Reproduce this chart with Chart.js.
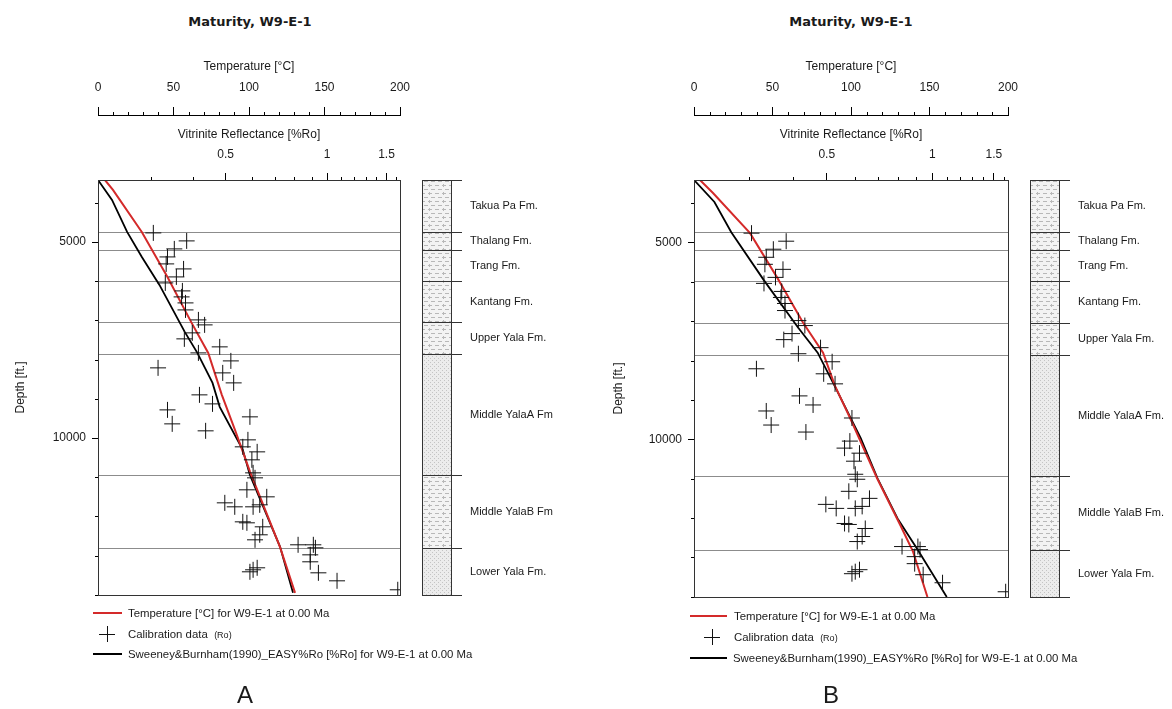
<!DOCTYPE html>
<html>
<head>
<meta charset="utf-8">
<script src="https://cdn.jsdelivr.net/npm/chart.js@4.4.1/dist/chart.umd.min.js"></script>
<style>
  body { margin: 0; background: #fff; width: 1172px; height: 709px; overflow: hidden; position: relative;
         font-family: "Liberation Sans", Arial, sans-serif; color: #1a1a1a; }
  canvas { position: absolute; top: 0; }
  #chartA { left: 0; }
  #chartB { left: 580px; }
  .title { position: absolute; top: 14px; width: 300px; text-align: center;
           font: bold 13px "DejaVu Sans", Verdana, sans-serif; line-height: 16px; }
  .panel { position: absolute; top: 681px; width: 60px; text-align: center; font-size: 24px; line-height: 28px; }
  .lg { position: absolute; font-size: 11.4px; line-height: 14px; white-space: nowrap; }
  .lg small { font-size: 9px; }
  .bar { position: absolute; height: 2px; }
  .cross-h { position: absolute; width: 16px; height: 1px; background: #111; }
  .cross-v { position: absolute; width: 1px; height: 16px; background: #111; }
</style>
</head>
<body>
<div class="title" style="left:100px">Maturity, W9-E-1</div>
<div class="title" style="left:701px">Maturity, W9-E-1</div>

<canvas id="chartA" width="553" height="709"></canvas>
<canvas id="chartB" width="592" height="709"></canvas>

<!-- legend A -->
<div class="bar" style="left:93px;top:612px;width:29px;background:#d42a2a"></div>
<div class="lg" style="left:128px;top:606px">Temperature [°C] for W9-E-1 at 0.00 Ma</div>
<div class="cross-h" style="left:99px;top:634px"></div><div class="cross-v" style="left:107px;top:626px"></div>
<div class="lg" style="left:128px;top:627px">Calibration data &nbsp;<small>(Ro)</small></div>
<div class="bar" style="left:93px;top:653px;width:29px;background:#000"></div>
<div class="lg" style="left:128px;top:647px">Sweeney&amp;Burnham(1990)_EASY%Ro [%Ro] for W9-E-1 at 0.00 Ma</div>
<div class="panel" style="left:215px">A</div>

<!-- legend B -->
<div class="bar" style="left:690px;top:615px;width:37px;background:#d42a2a"></div>
<div class="lg" style="left:734px;top:609px">Temperature [°C] for W9-E-1 at 0.00 Ma</div>
<div class="cross-h" style="left:704px;top:637px"></div><div class="cross-v" style="left:712px;top:629px"></div>
<div class="lg" style="left:734px;top:630px">Calibration data &nbsp;<small>(Ro)</small></div>
<div class="bar" style="left:690px;top:657px;width:37px;background:#000"></div>
<div class="lg" style="left:733px;top:651px">Sweeney&amp;Burnham(1990)_EASY%Ro [%Ro] for W9-E-1 at 0.00 Ma</div>
<div class="panel" style="left:801px">B</div>

<script>
// axes
const depthMin = 3415, depthMax = 14005;
const depthTicks = [4000, 5000, 6000, 7000, 8000, 9000, 10000, 11000, 12000, 13000, 14000];
const depthLabels = [5000, 10000];
const tempTicks = [0, 10, 20, 30, 40, 50, 60, 70, 80, 90, 100, 110, 120, 130, 140, 150, 160, 170, 180, 190, 200];
const tempLabels = [0, 50, 100, 150, 200];
const roTicks = [0.3, 0.4, 0.5, 0.6, 0.7, 0.8, 0.9, 1, 1.1, 1.2, 1.3, 1.4, 1.5, 1.6];
const roLabels = [0.5, 1, 1.5];

// formations
const formationNames = ['Takua Pa Fm.', 'Thalang Fm.', 'Trang Fm.', 'Kantang Fm.', 'Upper Yala Fm.',
                        'Middle YalaA Fm.', 'Middle YalaB Fm.', 'Lower Yala Fm.'];
const formationTops = [3415, 4740, 5200, 5990, 7036, 7852, 10939, 12801];
const formationLith = ['shale', 'shale', 'shale', 'shale', 'shale', 'sand', 'shale', 'sand'];

// calibration data (Ro measurements)
const calDepth = [4765, 4969, 5173, 5378, 5556, 5684, 5888, 6041, 6245, 6398, 6551, 6730, 6985, 7112,
                  7316, 7469, 7673, 7827, 8031, 8209, 8337, 8592, 8898, 9128, 9281, 9459, 9638, 9816,
                  10046, 10224, 10352, 10556, 10888, 11015, 11321, 11500, 11653, 11755, 11755, 11704,
                  12138, 12163, 12265, 12469, 12597, 12724, 12724, 12801, 12980, 13158, 13413, 13362,
                  13311, 13439, 13643, 13872];
const calRo = [0.305, 0.383, 0.352, 0.336, 0.333, 0.375, 0.357, 0.331, 0.372, 0.370, 0.380, 0.380, 0.415, 0.433,
               0.398, 0.377, 0.480, 0.415, 0.518, 0.315, 0.490, 0.528, 0.418, 0.457, 0.336, 0.590, 0.347, 0.436,
               0.582, 0.562, 0.620, 0.598, 0.603, 0.611, 0.578, 0.662, 0.497, 0.532, 0.603, 0.631,
               0.562, 0.578, 0.644, 0.631, 0.611, 0.820, 0.910, 0.923, 0.891, 0.891, 0.590, 0.603,
               0.620, 0.942, 1.07, 1.62];

// model A
const tempDepthA = [3415, 3668, 4740, 5888, 7061, 7827, 8898, 9791, 10862, 12776, 13950];
const tempA = [4.6, 9.9, 29, 46, 62, 73, 82, 90.7, 100.7, 120.5, 130.5];
const roDepthA = [3415, 3923, 4740, 5378, 6092, 7291, 7827, 8592, 9204, 10301, 10939, 12776, 13950];
const roA = [0.209, 0.230, 0.255, 0.282, 0.318, 0.378, 0.412, 0.457, 0.480, 0.562, 0.590, 0.725, 0.792];

// model B
const tempDepthB = [3415, 3745, 4765, 5888, 7036, 7801, 8643, 9459, 10990, 12163, 12852, 14005];
const tempB = [3.8, 12.1, 35.7, 52.9, 69.4, 82.2, 89.8, 99.4, 116.6, 131.2, 139.5, 148.7];
const roDepthB = [3415, 3974, 4740, 5964, 7163, 7801, 8592, 9969, 10990, 12010, 12801, 14005];
const roB = [0.209, 0.239, 0.267, 0.331, 0.414, 0.471, 0.523, 0.625, 0.698, 0.796, 0.908, 1.10];

const FONT = '"Liberation Sans", Arial, sans-serif';
const INK = '#1a1a1a';

function pts(xs, ys) {
  return xs.map((x, i) => ({ x: x, y: ys[i] }));
}

function makePattern(ctx, kind) {
  const c = document.createElement('canvas');
  const g = c.getContext('2d');
  if (kind === 'shale') {
    c.width = 14; c.height = 8;
    g.fillStyle = '#f3f3f3'; g.fillRect(0, 0, 14, 8);
    g.fillStyle = '#b8b8b8';
    g.fillRect(1, 1, 4, 1); g.fillRect(8, 1, 4, 1);
    g.fillRect(4, 5, 4, 1); g.fillRect(11, 5, 3, 1); g.fillRect(0, 5, 1, 1);
    g.fillRect(9, 0, 1, 3);
  } else {
    c.width = 4; c.height = 4;
    g.fillStyle = '#ececec'; g.fillRect(0, 0, 4, 4);
    g.fillStyle = '#c4c4c4';
    g.fillRect(0, 0, 1, 1); g.fillRect(2, 2, 1, 1);
  }
  return ctx.createPattern(c, 'repeat');
}

// formation lines, frame, minor ticks and lithology column
const strata = {
  id: 'strata',
  beforeDatasetsDraw(chart) {
    const { ctx, chartArea: a, scales: { y } } = chart;
    ctx.save();
    ctx.strokeStyle = '#8c8c8c';
    ctx.lineWidth = 1;
    formationTops.slice(1).forEach(d => {
      const py = Math.round(y.getPixelForValue(d)) + 0.5;
      ctx.beginPath(); ctx.moveTo(a.left, py); ctx.lineTo(a.right, py); ctx.stroke();
    });
    ctx.restore();
  },
  afterDraw(chart) {
    const { ctx, chartArea: a, scales } = chart;
    const y = scales.y;
    ctx.save();
    ctx.strokeStyle = '#333';
    ctx.lineWidth = 1;
    ctx.strokeRect(Math.round(a.left) + 0.5, Math.round(a.top) + 0.5,
                   Math.round(a.right - a.left), Math.round(a.bottom - a.top));

    // minor ticks
    ctx.strokeStyle = '#000';
    ['temp', 'ro'].forEach(id => {
      const s = scales[id];
      s.ticks.forEach(t => {
        if (t.label !== '') return;
        const px = Math.round(s.getPixelForValue(t.value)) + 0.5;
        ctx.beginPath(); ctx.moveTo(px, s.bottom - 3); ctx.lineTo(px, s.bottom); ctx.stroke();
      });
    });
    y.ticks.forEach(t => {
      if (t.label !== '') return;
      const py = Math.round(y.getPixelForValue(t.value)) + 0.5;
      ctx.beginPath(); ctx.moveTo(y.right - 3, py); ctx.lineTo(y.right, py); ctx.stroke();
    });

    // lithology column
    const colL = Math.round(a.right) + 22, colW = 29;
    const tops = formationTops.map(d => Math.round(y.getPixelForValue(d)));
    const base = Math.round(y.getPixelForValue(depthMax));
    formationNames.forEach((name, i) => {
      const t = tops[i], b = i + 1 < tops.length ? tops[i + 1] : base;
      ctx.fillStyle = makePattern(ctx, formationLith[i]);
      ctx.fillRect(colL, t, colW, b - t);
      ctx.fillStyle = INK;
      ctx.font = '11px ' + FONT;
      ctx.textBaseline = 'middle';
      ctx.fillText(name, colL + 48, (t + b) / 2);
    });
    ctx.strokeStyle = '#333';
    ctx.strokeRect(colL + 0.5, tops[0] + 0.5, colW, base - tops[0]);
    tops.concat([base]).forEach(py => {
      ctx.beginPath(); ctx.moveTo(colL, py + 0.5); ctx.lineTo(colL + 40, py + 0.5); ctx.stroke();
    });
    ctx.restore();
  }
};

function tickColor(list) {
  return c => (c.tick && list.includes(c.tick.value)) ? '#000' : 'rgba(0,0,0,0)';
}

function panel(id, p) {
  new Chart(document.getElementById(id), {
    type: 'scatter',
    data: {
      datasets: [{
        label: 'Calibration data (Ro)',
        data: pts(calRo, calDepth),
        xAxisID: 'ro', yAxisID: 'y',
        showLine: false,
        pointStyle: 'cross', pointRadius: 8, pointHoverRadius: 8,
        borderColor: '#111', borderWidth: 1
      }, {
        label: 'Temperature [°C] for W9-E-1 at 0.00 Ma',
        data: pts(p.temp, p.tempDepth),
        xAxisID: 'temp', yAxisID: 'y',
        showLine: true, pointRadius: 0,
        borderColor: '#d42a2a', borderWidth: 2
      }, {
        label: 'Sweeney&Burnham(1990)_EASY%Ro [%Ro] for W9-E-1 at 0.00 Ma',
        data: pts(p.ro, p.roDepth),
        xAxisID: 'ro', yAxisID: 'y',
        showLine: true, pointRadius: 0,
        borderColor: '#000', borderWidth: 1.8
      }]
    },
    options: {
      responsive: false,
      animation: false,
      events: [],
      layout: { padding: { top: 50, right: p.padRight, bottom: p.padBottom, left: 0 } },
      plugins: {
        legend: { display: false },
        tooltip: { enabled: false },
        title: { display: false }
      },
      scales: {
        temp: {
          type: 'linear', axis: 'x', position: 'top', weight: 2,
          min: 0, max: 200,
          afterBuildTicks: s => { s.ticks = tempTicks.map(v => ({ value: v })); },
          afterFit: s => { s.height = 65; },
          ticks: {
            autoSkip: false, maxRotation: 0, padding: 12, color: INK,
            font: { size: 12, family: FONT },
            callback: v => tempLabels.includes(v) ? String(v) : ''
          },
          grid: { drawOnChartArea: false, drawTicks: true, tickLength: 8, tickColor: tickColor(tempLabels) },
          border: { display: true, color: '#000', width: 1 },
          title: { display: true, text: 'Temperature [°C]', color: INK,
                   padding: { top: 9, bottom: 0 }, font: { size: 12, family: FONT } }
        },
        ro: {
          type: 'logarithmic', axis: 'x', position: 'top', weight: 1,
          min: 0.209, max: 1.645,
          afterBuildTicks: s => { s.ticks = roTicks.map(v => ({ value: v })); },
          afterFit: s => { s.height = 65; },
          ticks: {
            autoSkip: false, maxRotation: 0, padding: 11, color: INK,
            font: { size: 12, family: FONT },
            callback: v => roLabels.includes(v) ? String(v) : ''
          },
          grid: { drawOnChartArea: false, drawTicks: true, tickLength: 7, tickColor: tickColor(roLabels) },
          border: { display: true, color: '#000', width: 1 },
          title: { display: true, text: 'Vitrinite Reflectance [%Ro]', color: INK,
                   padding: { top: 12, bottom: 0 }, font: { size: 12, family: FONT } }
        },
        y: {
          type: 'linear', position: 'left', reverse: true,
          min: depthMin, max: depthMax,
          afterBuildTicks: s => { s.ticks = depthTicks.map(v => ({ value: v })); },
          afterFit: s => { s.width = p.yWidth; },
          ticks: {
            autoSkip: false, padding: 6, color: INK,
            font: { size: 12, family: FONT },
            callback: v => depthLabels.includes(v) ? String(v) : ''
          },
          grid: { drawOnChartArea: false, drawTicks: true, tickLength: 6, tickColor: tickColor(depthLabels) },
          border: { display: true, color: '#000', width: 1 },
          title: { display: true, text: 'Depth [ft.]', color: INK,
                   padding: { top: p.yTitlePad, bottom: 0 }, font: { size: 12, family: FONT } }
        }
      }
    },
    plugins: [strata]
  });
}

panel('chartA', {
  temp: tempA, tempDepth: tempDepthA, ro: roA, roDepth: roDepthA,
  yWidth: 98, yTitlePad: 13, padRight: 153, padBottom: 114
});
panel('chartB', {
  temp: tempB, tempDepth: tempDepthB, ro: roB, roDepth: roDepthB,
  yWidth: 114, yTitlePad: 31, padRight: 164, padBottom: 112
});
</script>
</body>
</html>
